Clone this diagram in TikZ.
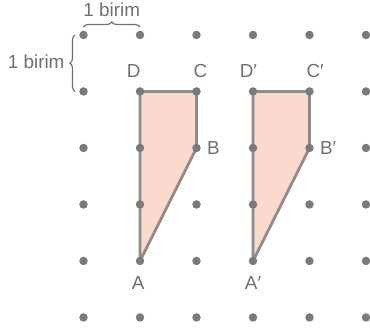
\documentclass[tikz,border=0pt]{standalone}
\usepackage{fontspec}
\setmainfont{Liberation Sans}
\usetikzlibrary{decorations.pathreplacing}
\definecolor{dotgray}{HTML}{7A7A7A}
\definecolor{edgegray}{HTML}{8C8C8C}
\definecolor{txtgray}{HTML}{707070}
\definecolor{shapefill}{HTML}{FAD9CE}

\begin{document}
\begin{tikzpicture}[x=1cm, y=1cm,
    dot/.style={circle, fill=dotgray, inner sep=0pt, minimum size=0.15cm},
    outline/.style={line width=1.4pt, draw=edgegray, fill=shapefill, line join=round},
    lbl/.style={inner sep=0pt, text=txtgray, font=\fontsize{9.5}{11}\selectfont},
    brc/.style={decorate, decoration={brace, amplitude=0.09cm}, line width=0.6pt, txtgray}]
  \useasboundingbox (-1.478,-0.221) rectangle (5.071,5.619);
  % \shapepts{x}: coordinates pA..pD of the four corners, shifted by x
  \newcommand{\shapepts}[1]{%
    \begin{scope}[shift={(#1,0)}]
      \coordinate (pA) at (1,1); \coordinate (pB) at (2,3);
      \coordinate (pC) at (2,4); \coordinate (pD) at (1,4);
    \end{scope}}
  % ---------------- left shape: ABCD ----------------
  \shapepts{0}
  \draw[outline] (pA) -- (pB) -- (pC) -- (pD) -- cycle;
  \node[lbl, anchor=north west] (lA) at ([shift={(-0.15,-0.265)}]pA) {A};
  \node[lbl, anchor=west]       (lB) at ([shift={(0.18,0)}]pB) {B};
  \node[lbl, anchor=south west] (lC) at ([shift={(-0.06,0.24)}]pC) {C};
  \node[lbl, anchor=south west] (lD) at ([shift={(-0.24,0.24)}]pD) {D};
  % ---------------- right shape: A'B'C'D' ----------------
  \shapepts{2}
  \draw[outline] (pA) -- (pB) -- (pC) -- (pD) -- cycle;
  \node[lbl, anchor=north west] (lAp) at ([shift={(-0.15,-0.265)}]pA) {A′};
  \node[lbl, anchor=west]       (lBp) at ([shift={(0.18,0)}]pB) {B′};
  \node[lbl, anchor=south west] (lCp) at ([shift={(-0.06,0.24)}]pC) {C′};
  \node[lbl, anchor=south west] (lDp) at ([shift={(-0.24,0.24)}]pD) {D′};
  % ---------------- dot grid ----------------
  \foreach \i in {0,...,5}
    \foreach \j in {0,...,5}
      \node[dot] (g\i\j) at (\i,\j) {};
  % ---------------- unit braces ----------------
  \draw[brc] ([yshift=0.14cm]g05.center) -- ([yshift=0.14cm]g15.center);
  \node[lbl] (unitx) at (0.5,5.44) {1 birim};
  \draw[brc] ([xshift=-0.15cm]g04.center) -- ([xshift=-0.15cm]g05.center);
  \node[lbl, anchor=east] (unity) at (-0.33,4.53) {1 birim};
\end{tikzpicture}
\end{document}
